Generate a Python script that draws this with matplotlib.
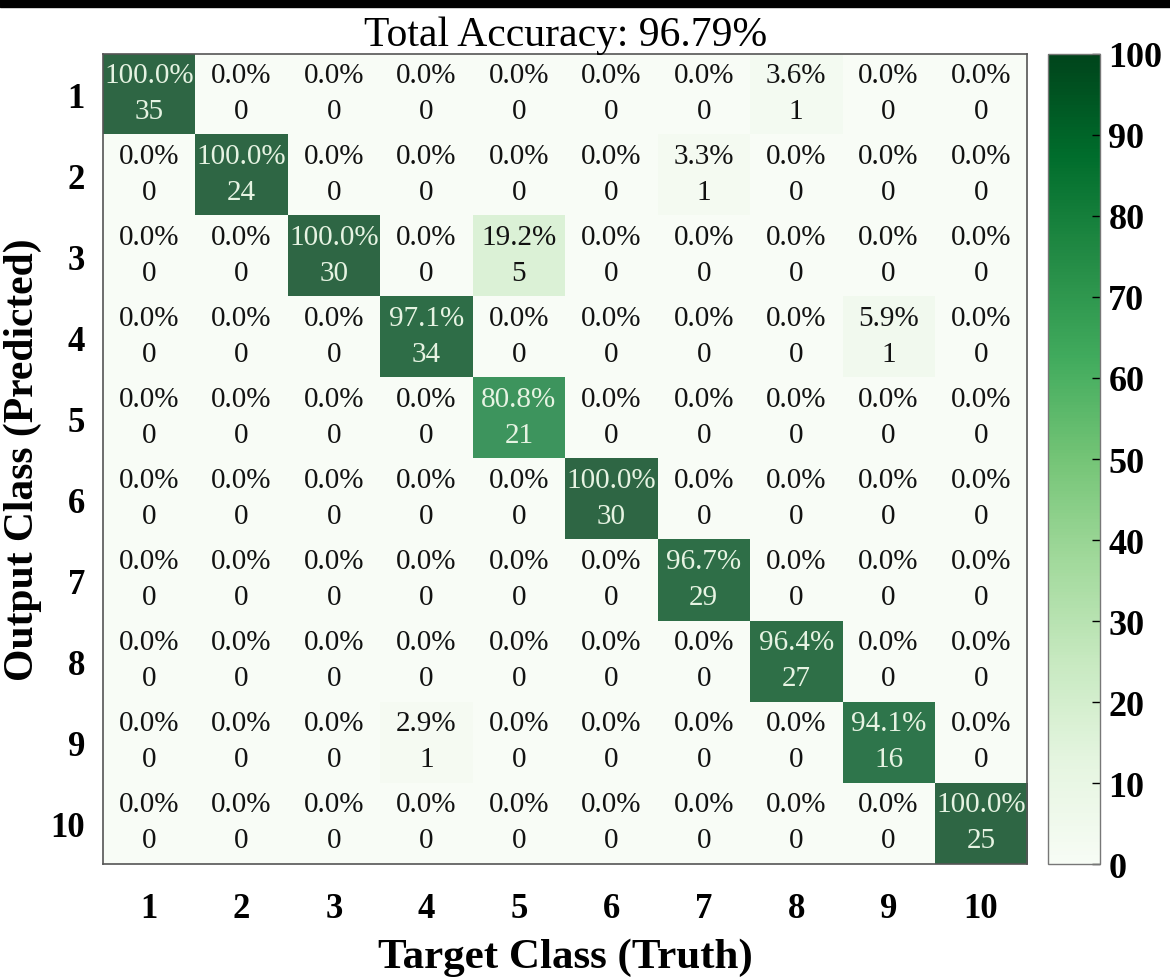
import numpy as np
import matplotlib
matplotlib.use("Agg")
import matplotlib.pyplot as plt
from matplotlib.patches import Rectangle

classes = ["1", "2", "3", "4", "5", "6", "7", "8", "9", "10"]
# rows = output (predicted) class, columns = target class
counts = np.array([
    [35, 0, 0, 0, 0, 0, 0, 1, 0, 0],
    [0, 24, 0, 0, 0, 0, 1, 0, 0, 0],
    [0, 0, 30, 0, 5, 0, 0, 0, 0, 0],
    [0, 0, 0, 34, 0, 0, 0, 0, 1, 0],
    [0, 0, 0, 0, 21, 0, 0, 0, 0, 0],
    [0, 0, 0, 0, 0, 30, 0, 0, 0, 0],
    [0, 0, 0, 0, 0, 0, 29, 0, 0, 0],
    [0, 0, 0, 0, 0, 0, 0, 27, 0, 0],
    [0, 0, 0, 1, 0, 0, 0, 0, 16, 0],
    [0, 0, 0, 0, 0, 0, 0, 0, 0, 25],
])
title_text = "Total Accuracy: 96.79%"
xlabel_text = "Target Class (Truth)"
ylabel_text = "Output Class (Predicted)"
cbar_ticks = [0, 10, 20, 30, 40, 50, 60, 70, 80, 90, 100]

pct = counts / counts.sum(axis=0, keepdims=True) * 100

plt.rcParams['font.family'] = ['Liberation Serif', 'DejaVu Serif']

fig = plt.figure(figsize=(11.7, 9.78), dpi=100)
fig.patches.append(Rectangle((0, 0.992), 1, 0.008, transform=fig.transFigure,
                             color='black', zorder=10))

ax = fig.add_axes([0.088, 0.1155, 0.790, 0.8283])
cax = fig.add_axes([0.8957, 0.1155, 0.0444, 0.8283])

im = ax.imshow(pct, cmap='Greens', vmin=0, vmax=100, aspect='auto', alpha=0.82)

n = len(classes)
for i in range(n):
    for j in range(n):
        v = pct[i, j]
        col = '#e6f3e2' if v > 50 else '#111111'
        ax.text(j, i - 0.24, f"{v:.1f}%", ha='center', va='center',
                fontsize=21, color=col)
        ax.text(j, i + 0.2, f"{counts[i, j]}", ha='center', va='center',
                fontsize=21, color=col)

ax.set_xticks(range(n))
ax.set_yticks(range(n))
ax.set_xticklabels(classes, fontsize=25, fontweight='bold')
ax.set_yticklabels(classes, fontsize=25, fontweight='bold')
ax.tick_params(length=0)
ax.tick_params(axis='x', pad=20)
ax.tick_params(axis='y', pad=13)
for s in ax.spines.values():
    s.set_color('#555555')
    s.set_linewidth(1.2)

ax.set_title(title_text, fontsize=30, pad=4)
ax.set_xlabel(xlabel_text, fontsize=31, fontweight='bold', labelpad=9)
ax.set_ylabel(ylabel_text, fontsize=30, fontweight='bold', va='center')
ax.yaxis.set_label_coords(-0.087, 0.5)

cb = fig.colorbar(im, cax=cax, ticks=cbar_ticks)
cb.solids.set_alpha(1.0)
cb.outline.set_edgecolor('#777777')
cb.outline.set_linewidth(1.0)
cax.tick_params(direction='in', length=6, width=1, labelsize=26, pad=6)
for t in cax.get_yticklabels():
    t.set_fontweight('bold')

fig.savefig("out.png", dpi=100)
